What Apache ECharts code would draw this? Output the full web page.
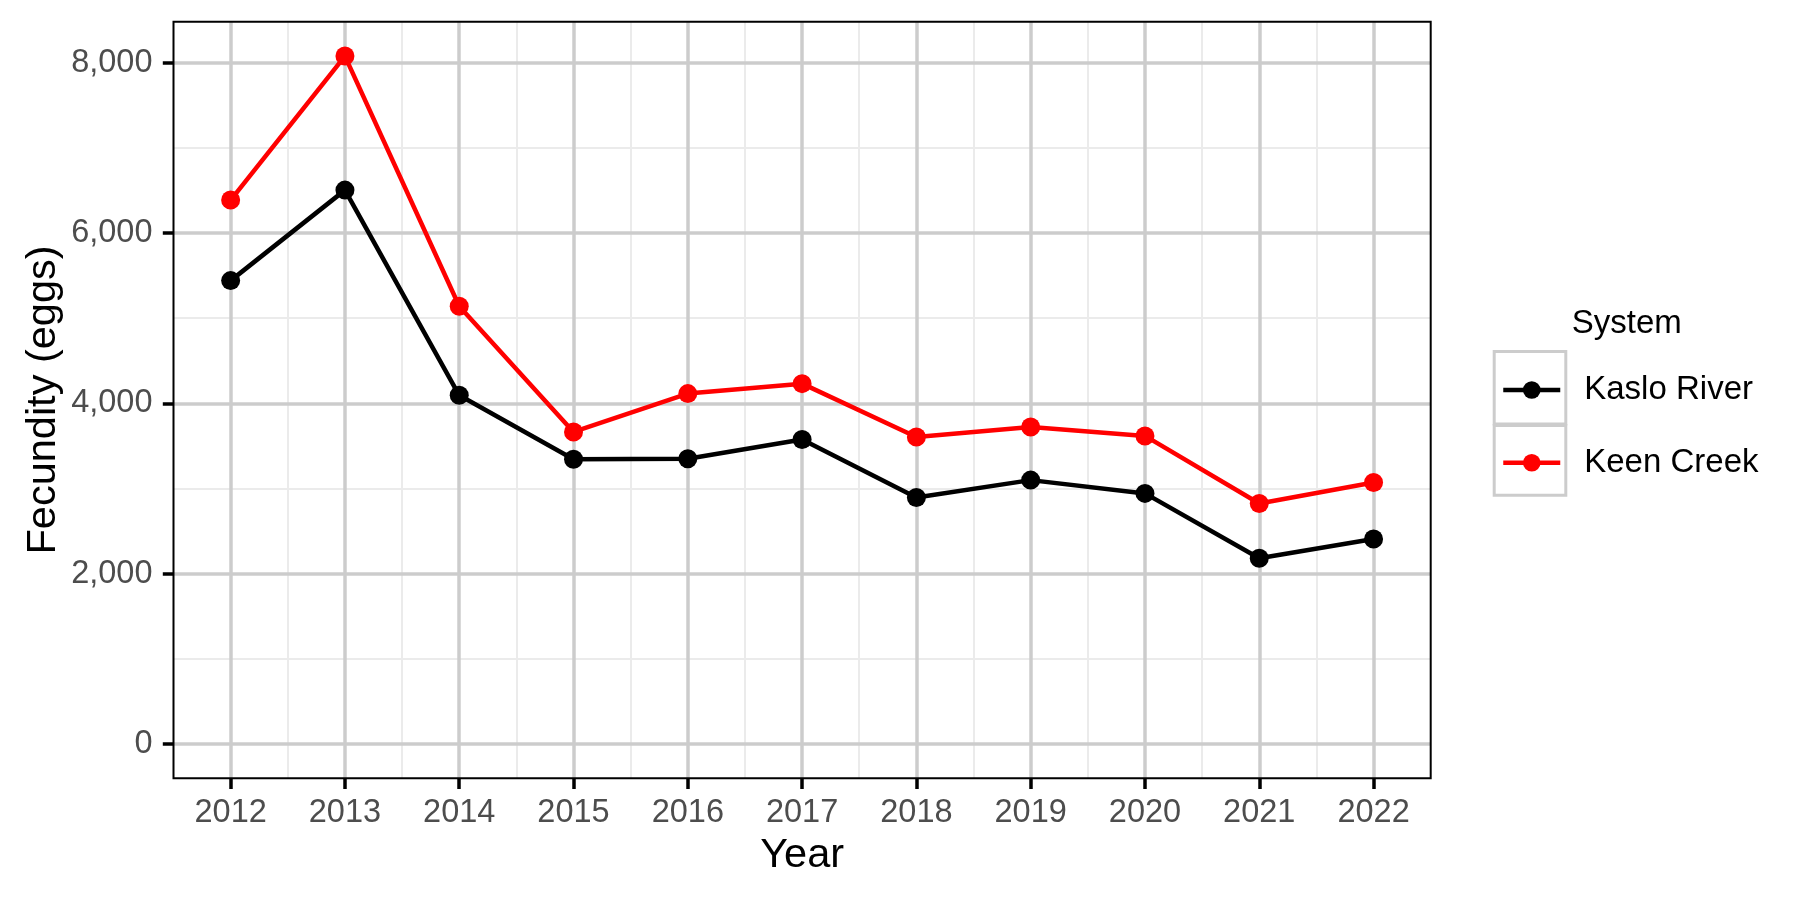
<!DOCTYPE html>
<html><head><meta charset="utf-8">
<script src="https://cdn.jsdelivr.net/npm/echarts@6/dist/echarts.min.js"></script>
<style>html,body{margin:0;padding:0;background:#fff}#c{width:1800px;height:900px}</style>
</head><body><div id="c"></div>
<script>
// ---- data ----
const years = [2012, 2013, 2014, 2015, 2016, 2017, 2018, 2019, 2020, 2021, 2022];
const kasloRiver = [5441, 6504, 4094, 3344, 3350, 3575, 2895, 3098, 2942, 2180, 2406];
const keenCreek  = [6387, 8078, 5140, 3664, 4114, 4231, 3605, 3722, 3617, 2824, 3071];
const yTickValues = [0, 2000, 4000, 6000, 8000];
const seriesNames = ['Kaslo River', 'Keen Creek'];
const seriesColors = ['#000000', '#ff0000'];
const legendTitle = 'System';
const xTitle = 'Year';
const yTitle = 'Fecundity (eggs)';

// ---- layout ----
const FONT = '"Liberation Sans", Arial, Helvetica, sans-serif';
const W = 1800, H = 900;
const P = {L: 173.5, R: 1430.7, T: 21.7, B: 778.3};
const xMin = years[0] - 0.5, xMax = years[years.length - 1] + 0.5;
const dataMax = Math.max(...kasloRiver, ...keenCreek);
const pad = dataMax * 0.05;
const yMin = -pad, yMax = dataMax + pad;
const yTop = yTickValues[yTickValues.length - 1], yBot = yTickValues[0];
const yStep = yTickValues[1] - yTickValues[0];
const px = x => P.L + (x - xMin) / (xMax - xMin) * (P.R - P.L);
const py = y => P.B - (y - yMin) / (yMax - yMin) * (P.B - P.T);

const MAJOR = {color: '#cccccc', width: 3.5};
const MINOR = {color: '#ebebeb', width: 2};
const TICK_FS = 32.5, TITLE_FS = 41.5, LEG_FS = 33;

const grids = [
  {left: P.L, right: W - P.R, top: P.T, bottom: H - P.B},                      // v minor
  {left: px(years[0]), right: W - px(years[years.length-1]), top: P.T, bottom: H - P.B}, // v major
  {left: P.L, right: W - P.R, top: py(yTop), bottom: H - py(yBot)},            // h minor
  {left: P.L, right: W - P.R, top: py(yTop), bottom: H - py(yBot)},            // h major
  {left: P.L, right: W - P.R, top: P.T, bottom: H - P.B, show: true, borderColor: '#000', borderWidth: 2, z: 10, backgroundColor: 'transparent'} // data
].map(g => Object.assign({containLabel: false, outerBoundsMode: 'none'}, g));

const hidden = {axisLine: {show: false, onZero: false}, axisTick: {show: false}, axisLabel: {show: false}, splitLine: {show: false}};

const xAxes = [
  Object.assign({}, hidden, {gridIndex: 0, type: 'value', min: xMin, max: xMax, interval: 0.5, z: 1,
    splitLine: {show: true, showMinLine: false, showMaxLine: false, lineStyle: MINOR}}),
  Object.assign({}, hidden, {gridIndex: 1, type: 'value', min: years[0], max: years[years.length-1], interval: 1, z: 2,
    splitLine: {show: true, lineStyle: MAJOR},
    axisTick: {show: true, inside: false, length: 10.7, lineStyle: {color: '#000', width: 3.5}},
    axisLabel: {show: true, margin: 18, color: '#4d4d4d', fontSize: TICK_FS, fontFamily: FONT, formatter: v => String(v)}}),
  Object.assign({}, hidden, {gridIndex: 2, type: 'value', min: 0, max: 1}),
  Object.assign({}, hidden, {gridIndex: 3, type: 'value', min: 0, max: 1}),
  Object.assign({}, hidden, {gridIndex: 4, type: 'value', min: xMin, max: xMax, show: true,
    name: xTitle, nameLocation: 'middle', nameGap: 57, nameMoveOverlap: false,
    nameTextStyle: {fontSize: TITLE_FS, color: '#000', fontFamily: FONT, lineHeight: TITLE_FS}})
];
const yAxes = [
  Object.assign({}, hidden, {gridIndex: 0, type: 'value', min: 0, max: 1}),
  Object.assign({}, hidden, {gridIndex: 1, type: 'value', min: 0, max: 1}),
  Object.assign({}, hidden, {gridIndex: 2, type: 'value', min: yBot, max: yTop, interval: yStep / 2, z: 1,
    splitLine: {show: true, lineStyle: MINOR}}),
  Object.assign({}, hidden, {gridIndex: 3, type: 'value', min: yBot, max: yTop, interval: yStep, z: 2,
    splitLine: {show: true, lineStyle: MAJOR},
    axisTick: {show: true, inside: false, length: 10.7, lineStyle: {color: '#000', width: 3.5}},
    axisLabel: {show: true, margin: 21, color: '#4d4d4d', fontSize: TICK_FS, fontFamily: FONT,
      formatter: v => v.toLocaleString('en-US')}}),
  Object.assign({}, hidden, {gridIndex: 4, type: 'value', min: yMin, max: yMax, show: true,
    name: yTitle, nameLocation: 'middle', nameGap: 109, nameMoveOverlap: false,
    nameTextStyle: {fontSize: TITLE_FS, color: '#000', fontFamily: FONT, lineHeight: TITLE_FS}})
];

const seriesData = [kasloRiver, keenCreek];
const series = seriesNames.map((name, k) => ({
  name, type: 'line', xAxisIndex: 4, yAxisIndex: 4, z: 20, clip: false,
  data: years.map((yr, i) => [yr, seriesData[k][i]]),
  symbol: 'circle', symbolSize: 19, showSymbol: true,
  itemStyle: {color: seriesColors[k]},
  lineStyle: {color: seriesColors[k], width: 4.5},
  emphasis: {disabled: true}
}));

const option = {
  animation: false,
  backgroundColor: '#ffffff',
  grid: grids,
  xAxis: xAxes,
  yAxis: yAxes,
  series,
  legend: {
    data: seriesNames, orient: 'vertical', left: 1496, top: 367, padding: 5,
    itemWidth: 57, itemHeight: 22, itemGap: 36.7,
    lineStyle: {width: 4.5},
    textStyle: {fontSize: LEG_FS, color: '#000', fontFamily: FONT, lineHeight: 36, padding: [0, 0, 0, 19]},
    selectedMode: false
  },
  graphic: [
    {type: 'rect', z: 1, shape: {x: 1494.2, y: 351.5, width: 71.6, height: 72.5},
      style: {fill: '#fff', stroke: '#cccccc', lineWidth: 3}},
    {type: 'rect', z: 1, shape: {x: 1494.2, y: 425.5, width: 71.6, height: 69.7},
      style: {fill: '#fff', stroke: '#cccccc', lineWidth: 3}},
    {type: 'text', z: 1, style: {x: 1571.7, y: 323.5, text: legendTitle, fill: '#000',
      font: LEG_FS + 'px ' + FONT, verticalAlign: 'middle', align: 'left'}}
  ]
};
const chart = echarts.init(document.getElementById('c'), null, {renderer: 'canvas'});
chart.setOption(option);
</script></body></html>
